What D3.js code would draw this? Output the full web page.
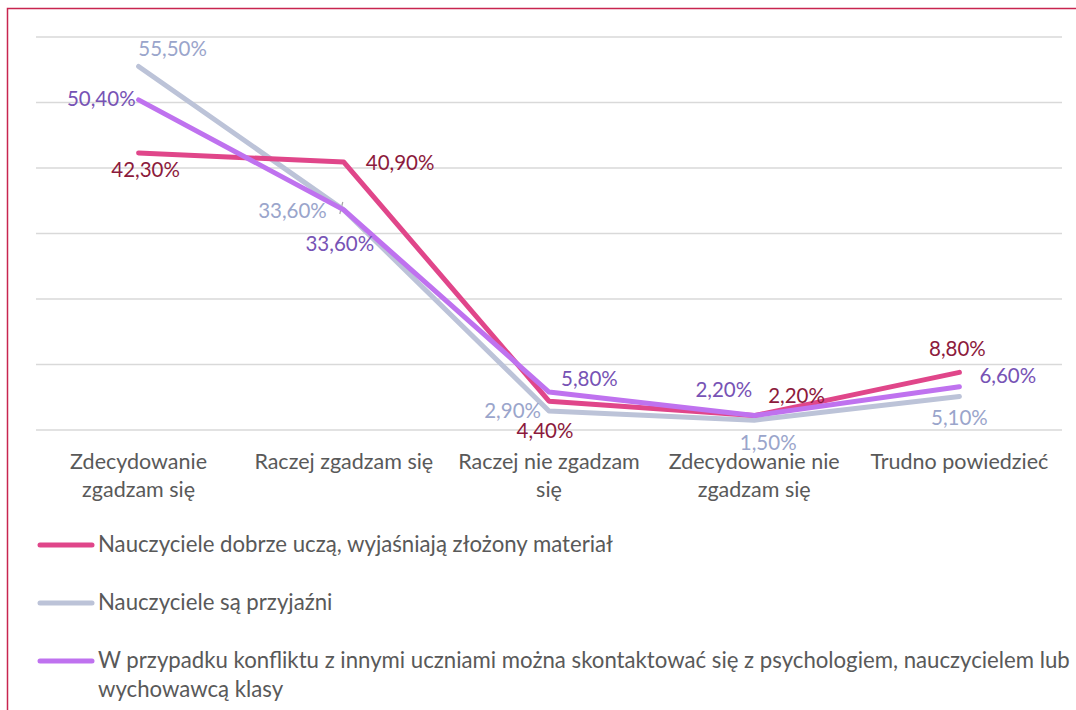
<!DOCTYPE html>
<html>
<head>
<meta charset="utf-8">
<script src="https://cdn.jsdelivr.net/npm/d3@7"></script>
<style>
body { margin: 0; background: #fff; }
text { font-family: Lato, "Open Sans", sans-serif; }
</style>
</head>
<body>
<script>
var width = 1076,
  height = 710;

var kategorie = [
  ["Zdecydowanie", "zgadzam się"],
  ["Raczej zgadzam się"],
  ["Raczej nie zgadzam", "się"],
  ["Zdecydowanie nie", "zgadzam się"],
  ["Trudno powiedzieć"]
];
var nazwy = [
  "Nauczyciele dobrze uczą, wyjaśniają złożony materiał",
  "Nauczyciele są przyjaźni",
  "W przypadku konfliktu z innymi uczniami można skontaktować się z psychologiem, nauczycielem lub|wychowawcą klasy"
];
var dobrzeUcza = [42.3, 40.9, 4.4, 2.2, 8.8];
var przyjazni = [55.5, 33.6, 2.9, 1.5, 5.1];
var konflikt = [50.4, 33.6, 5.8, 2.2, 6.6];
var ticks = [0, 10, 20, 30, 40, 50, 60];

var kolory = ["#e0468a", "#bcc3d8", "#bf72ef"];
var koloryEtykiet = ["#8c1a3c", "#9aa5cb", "#7753b5"];

// where each value label sits relative to its point: [dx, dy, anchor]
var pozycje = [
  [[7, 24, "middle"], [22, 8, "start"], [-4, 37, "middle"], [14, -13, "start"], [-2, -16, "middle"]],
  [[34, -10, "middle"], [-17, 8, "end"], [-8, 7, "end"], [14, 30, "middle"], [0, 28, "middle"]],
  [[-3, 6, "end"], [-4, 41, "middle"], [12, -6, "start"], [-2, -19, "end"], [20, -4, "start"]]
];

var serie = [dobrzeUcza, przyjazni, konflikt];

var svg = d3.select("body").append("svg")
  .attr("width", width)
  .attr("height", height);

svg.append("rect")
  .attr("x", 7.5).attr("y", 8.5)
  .attr("width", width).attr("height", height)
  .attr("fill", "none")
  .attr("stroke", "#c8254f")
  .attr("stroke-width", 1.5);

var x = d3.scaleBand()
  .domain(d3.range(kategorie.length))
  .range([36, 1062]);
var y = d3.scaleLinear()
  .domain([0, 60])
  .range([430, 37]);

svg.append("g").selectAll("line")
  .data(ticks)
  .enter().append("line")
  .attr("x1", 36).attr("x2", 1062)
  .attr("y1", function (d) { return y(d); })
  .attr("y2", function (d) { return y(d); })
  .attr("stroke", "#d9d9d9")
  .attr("stroke-width", 1.5);

// category labels
var kat = svg.append("g").selectAll("text")
  .data(kategorie)
  .enter().append("text")
  .attr("text-anchor", "middle")
  .attr("fill", "#595959")
  .style("font-size", "21.5px");
kat.each(function (d, i) {
  var t = d3.select(this);
  d.forEach(function (linia, j) {
    t.append("tspan")
      .attr("x", x(i) + x.bandwidth() / 2)
      .attr("y", 469 + j * 28)
      .text(linia);
  });
});

var linia = d3.line()
  .x(function (d, i) { return x(i) + x.bandwidth() / 2; })
  .y(function (d) { return y(d); });

// leader line for the grey 33,60% label
svg.append("line")
  .attr("x1", x(1) + x.bandwidth() / 2 - 4).attr("y1", 214)
  .attr("x2", x(1) + x.bandwidth() / 2 - 1).attr("y2", 202)
  .attr("stroke", "#a6a6a6").attr("stroke-width", 1.2);

svg.append("g").selectAll("path")
  .data([1, 0, 2])
  .enter().append("path")
  .attr("d", function (s) { return linia(serie[s]); })
  .attr("fill", "none")
  .attr("stroke", function (s) { return kolory[s]; })
  .attr("stroke-width", 5)
  .attr("stroke-linecap", "round")
  .attr("stroke-linejoin", "round");

serie.forEach(function (vals, s) {
  svg.append("g").selectAll("text")
    .data(vals)
    .enter().append("text")
    .attr("x", function (d, i) { return x(i) + x.bandwidth() / 2 + pozycje[s][i][0]; })
    .attr("y", function (d, i) { return y(d) + pozycje[s][i][1]; })
    .attr("text-anchor", function (d, i) { return pozycje[s][i][2]; })
    .attr("fill", koloryEtykiet[s])
    .style("font-size", "20.5px")
    .text(function (d) { return d.toFixed(2).replace(".", ",") + "%"; });
});

// legend
var legenda = svg.append("g").selectAll("g")
  .data(nazwy)
  .enter().append("g")
  .attr("transform", function (d, i) { return "translate(0," + (545 + i * 58) + ")"; });
legenda.append("line")
  .attr("x1", 40).attr("x2", 92)
  .attr("y1", 0).attr("y2", 0)
  .attr("stroke", function (d, i) { return kolory[i]; })
  .attr("stroke-width", 5)
  .attr("stroke-linecap", "round");
legenda.append("text")
  .attr("fill", "#595959")
  .style("font-size", "22.2px")
  .each(function (d) {
    var t = d3.select(this);
    d.split("|").forEach(function (l, j) {
      t.append("tspan")
        .attr("x", 98)
        .attr("y", 7 + j * 29)
        .text(l);
    });
  });
</script>
</body>
</html>
